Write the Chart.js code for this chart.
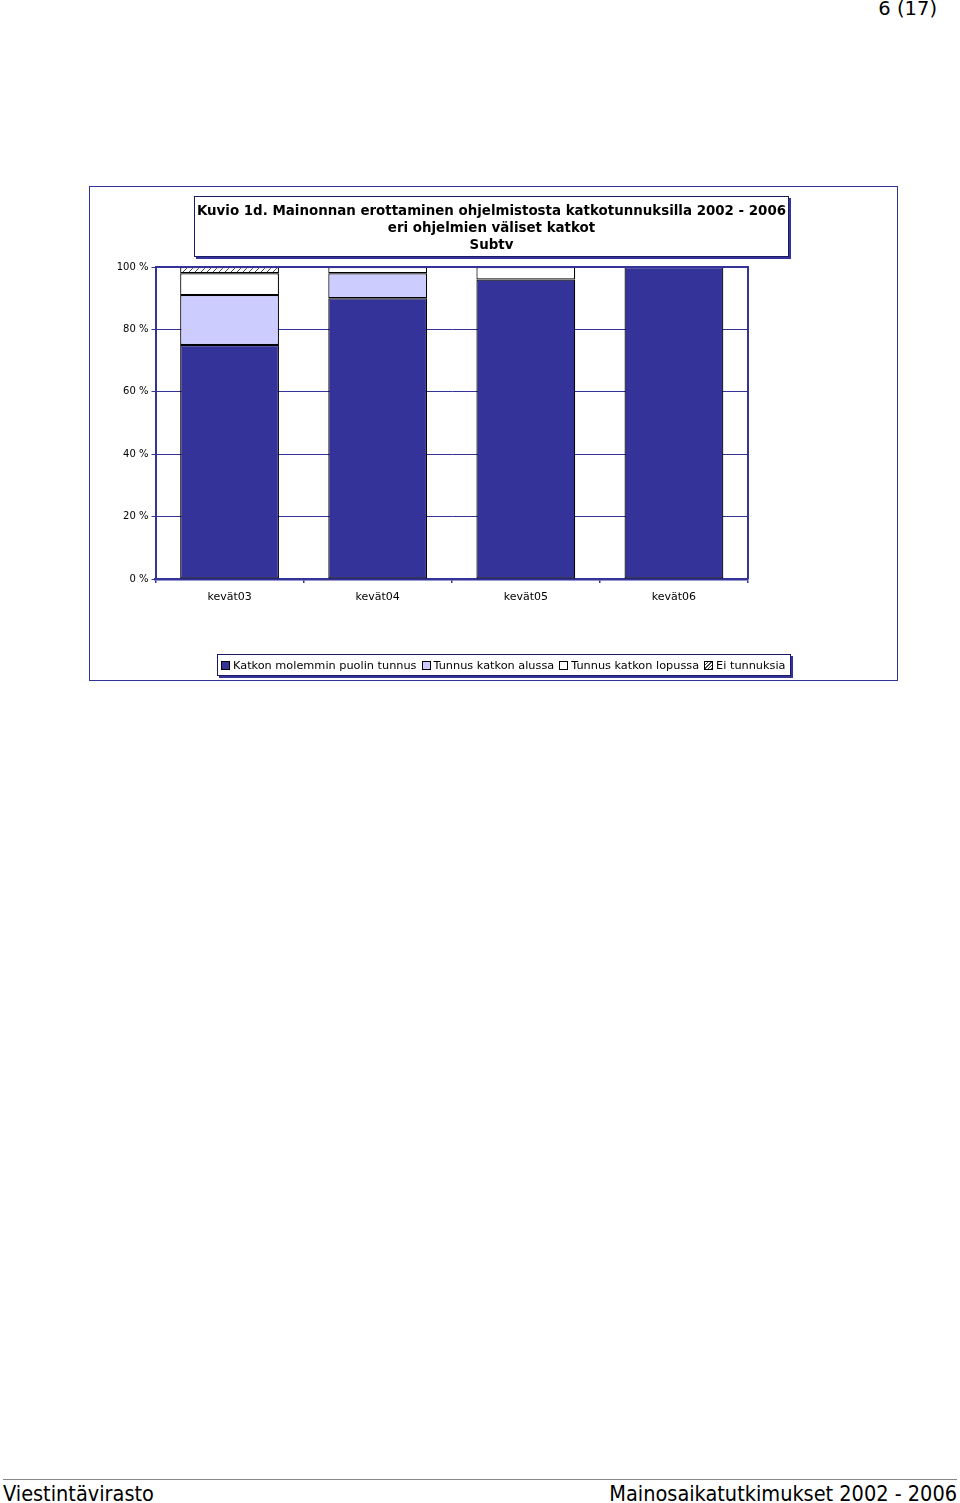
<!DOCTYPE html>
<html>
<head>
<meta charset="utf-8">
<script src="https://cdn.jsdelivr.net/npm/chart.js@4.4.1/dist/chart.umd.min.js"></script>
<style>
  html, body { margin: 0; padding: 0; background: #fff; }
  body { width: 960px; height: 1503px; position: relative; overflow: hidden; font-family: "DejaVu Sans", Verdana, sans-serif; }
  #pageno { position: absolute; right: 23px; top: -3px; font: 19.5px "DejaVu Sans", sans-serif; color: #000; }
  #frame { position: absolute; left: 89px; top: 186px; width: 807px; height: 493px; border: 1px solid #333399; }
  #wrap { position: absolute; left: 89px; top: 186px; width: 809px; height: 495px; }
  #title { position: absolute; left: 194px; top: 196px; width: 595px; height: 61px; border: 1px solid #1a1a66;
           box-shadow: 2px 2px 0 #333399; background: #fff; text-align: center;
           font: bold 13.4px "DejaVu Sans", sans-serif; line-height: 17px; padding-top: 5px; box-sizing: border-box; }
  #legend { position: absolute; left: 217px; top: 654px; width: 574px; height: 22px; border: 1px solid #1a1a66;
            box-shadow: 2px 2px 0 #333399; background: #fff; box-sizing: border-box;
            display: flex; align-items: center; padding-left: 3px; font: 11.3px "DejaVu Sans", sans-serif; white-space: nowrap; }
  #legend .item { display: flex; align-items: center; margin-right: 5px; }
  #legend .sw { width: 7px; height: 7px; border: 1px solid #000; margin-right: 3px; }
  #footline { position: absolute; left: 3px; width: 954px; top: 1479px; border-top: 1px solid #888; }
  .foot { position: absolute; top: 1481px; font: 21.5px "DejaVu Sans Condensed", "DejaVu Sans", sans-serif; color: #000; }
</style>
</head>
<body>
<div id="pageno">6 (17)</div>
<div id="frame"></div>
<div id="wrap"><canvas id="chart"></canvas></div>
<div id="title">
  <div>Kuvio 1d. Mainonnan erottaminen ohjelmistosta katkotunnuksilla 2002 - 2006</div>
  <div>eri ohjelmien väliset katkot</div>
  <div>Subtv</div>
</div>
<div id="legend"></div>
<div id="footline"></div>
<div class="foot" style="left:3px">Viestintävirasto</div>
<div class="foot" style="right:3px">Mainosaikatutkimukset 2002 - 2006</div>

<script>
const categories = ['kevät03', 'kevät04', 'kevät05', 'kevät06'];
const seriesNames = ['Katkon molemmin puolin tunnus', 'Tunnus katkon alussa', 'Tunnus katkon lopussa', 'Ei tunnuksia'];
const molemmin = [75, 90, 96, 100];
const alussa = [16, 8, 0, 0];
const lopussa = [7, 2, 4, 0];
const eiTunnuksia = [2, 0, 0, 0];
const yTicks = [0, 20, 40, 60, 80, 100];

const NAVY = '#333399';

// hatch for "Ei tunnuksia"
function makeHatch() {
    const c = document.createElement('canvas');
    c.width = 6; c.height = 6;
    const g = c.getContext('2d');
    g.fillStyle = '#fff';
    g.fillRect(0, 0, 6, 6);
    g.strokeStyle = '#444';
    g.lineWidth = 1;
    g.beginPath();
    g.moveTo(0, 6); g.lineTo(6, 0);
    g.moveTo(-1, 1); g.lineTo(1, -1);
    g.moveTo(5, 7); g.lineTo(7, 5);
    g.stroke();
    return g.createPattern(c, 'repeat');
}
const hatch = makeHatch();

const fills = [NAVY, '#ccccff', '#ffffff', hatch];
const swatchCss = [NAVY, '#ccccff', '#ffffff',
    'repeating-linear-gradient(135deg, #fff 0 1.5px, #444 1.5px 2.5px)'];

const seriesData = [molemmin, alussa, lopussa, eiTunnuksia];

const plotFrame = {
    id: 'plotFrame',
    afterDatasetsDraw(chart) {
        const { ctx, chartArea: a } = chart;
        ctx.save();
        ctx.strokeStyle = NAVY;
        ctx.lineWidth = 2;
        ctx.beginPath();
        ctx.moveTo(a.left, a.top);
        ctx.lineTo(a.right, a.top);
        ctx.lineTo(a.right, a.bottom);
        ctx.stroke();
        ctx.restore();
    }
};

new Chart(document.getElementById('chart'), {
    type: 'bar',
    data: {
        labels: categories,
        datasets: seriesData.map((d, i) => ({
            label: seriesNames[i],
            data: d,
            backgroundColor: fills[i],
            borderColor: '#000',
            borderWidth: ctx => (ctx.raw ? 1.2 : 0),
            borderSkipped: false,
            barPercentage: 0.667,
            categoryPercentage: 1
        }))
    },
    options: {
        responsive: true,
        maintainAspectRatio: false,
        animation: false,
        layout: { padding: { top: 81, right: 150, left: 0, bottom: 0 } },
        plugins: {
            legend: { display: false },
            title: { display: false },
            tooltip: { enabled: false }
        },
        scales: {
            x: {
                stacked: true,
                afterFit: s => { s.height = 102; },
                grid: { offset: true, drawOnChartArea: false, color: NAVY, tickLength: 4, lineWidth: 1.5 },
                border: { color: NAVY, width: 2.5 },
                ticks: { color: '#000', padding: 8, font: { family: 'DejaVu Sans', size: 11 } }
            },
            y: {
                stacked: true,
                min: 0,
                max: 100,
                afterFit: s => { s.width = 66.5; },
                afterBuildTicks: s => { s.ticks = yTicks.map(v => ({ value: v })); },
                grid: { color: NAVY, lineWidth: 1, tickLength: 4 },
                border: { color: NAVY, width: 2 },
                ticks: {
                    color: '#000',
                    padding: 3,
                    font: { family: 'DejaVu Sans', size: 10 },
                    callback: v => v + ' %'
                }
            }
        }
    },
    plugins: [plotFrame]
});

// legend built from the same series names
const lg = document.getElementById('legend');
seriesNames.forEach((name, i) => {
    const it = document.createElement('div');
    it.className = 'item';
    const sw = document.createElement('span');
    sw.className = 'sw';
    sw.style.background = swatchCss[i];
    it.appendChild(sw);
    it.appendChild(document.createTextNode(name));
    lg.appendChild(it);
});
</script>
</body>
</html>
